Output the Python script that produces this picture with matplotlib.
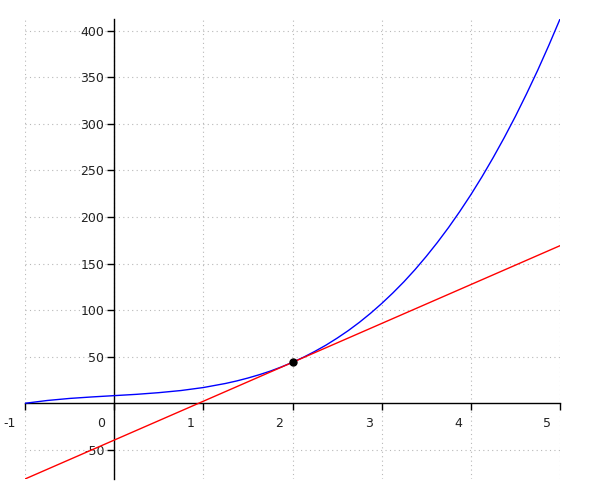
import numpy as np
import matplotlib
matplotlib.use("Agg")
import matplotlib.pyplot as plt
import matplotlib.transforms as mtransforms

plt.rcParams["axes.unicode_minus"] = False
plt.rcParams["font.family"] = "DejaVu Sans"

# Curve values
curve_x = [-1, -0.75, -0.5, -0.25, 0, 0.25, 0.5, 0.75, 1, 1.25, 1.375, 1.5, 1.625,
           1.75, 1.875, 2, 2.125, 2.25, 2.375, 2.5, 2.625, 2.75, 2.875, 3, 3.125,
           3.25, 3.375, 3.5, 3.625, 3.75, 3.875, 4, 4.125, 4.25, 4.375, 4.5, 4.625,
           4.75, 4.875, 5]
curve_y = [0.0, 3.0, 5.2, 6.8, 8.2, 9.6, 11.4, 13.7, 16.9, 21.3, 24.0, 27.1, 30.6,
           34.5, 39.0, 44.0, 49.5, 55.7, 62.4, 69.9, 78.0, 86.9, 96.6, 107.1, 118.4,
           130.5, 143.6, 157.7, 172.7, 188.7, 205.8, 223.9, 243.2, 263.7, 285.3, 308.1, 332.3,
           357.6, 384.4, 412.5]

# Tangent line end points and point of tangency
tangent_x = [-1, 5]
tangent_y = [-81.3, 169.2]
point_x = [2]
point_y = [44.0]

x_ticks = [-1, 0, 1, 2, 3, 4, 5]
y_ticks = [-50, 50, 100, 150, 200, 250, 300, 350, 400]

fig = plt.figure(figsize=(6, 5), dpi=100)
ax = fig.add_axes([25 / 600, 21 / 500, 535 / 600, 460 / 500])

ax.plot(curve_x, curve_y, color="#0000ff", lw=1.0, zorder=3)
ax.plot(tangent_x, tangent_y, color="#ff0000", lw=1.0, zorder=4)
ax.plot(point_x, point_y, "o", color="black", markersize=5, zorder=5)

ax.set_xlim(-1, 5)
ax.set_ylim(-81.3, 412.6)

# axes crossing at the origin
ax.spines["left"].set_position(("data", 0))
ax.spines["bottom"].set_position(("data", 0))
ax.spines["top"].set_visible(False)
ax.spines["right"].set_visible(False)
for s in ("left", "bottom"):
    ax.spines[s].set_linewidth(1.0)
    ax.spines[s].set_color("black")

ax.set_xticks(x_ticks)
ax.set_yticks(y_ticks)
ax.set_xticklabels([str(t) for t in x_ticks])
ax.set_yticklabels([str(t) for t in y_ticks])
ax.tick_params(axis="both", direction="out", length=5, width=1.0, color="black",
               labelsize=9, labelcolor="#222222")
ax.tick_params(axis="y", pad=2)
ax.tick_params(axis="x", pad=5)

# x labels sit to the left of their ticks
offset = mtransforms.ScaledTranslation(-6.5 / 72, 0, fig.dpi_scale_trans)
for lab in ax.get_xticklabels():
    lab.set_horizontalalignment("right")
    lab.set_transform(lab.get_transform() + offset)

ax.grid(True, linestyle=(0, (1, 3)), color="#b8b8b8", linewidth=0.8)
ax.set_axisbelow(True)

fig.savefig("out.png", dpi=100)
